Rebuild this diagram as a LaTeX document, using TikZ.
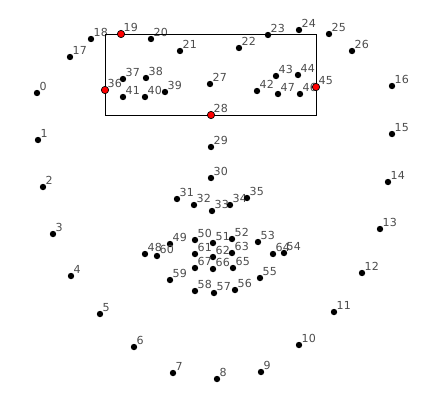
\documentclass[tikz,border=0pt]{standalone}
\usepackage{fontspec}
\setsansfont{DejaVu Sans}
\usepackage{tikz}
\usetikzlibrary{positioning}

\tikzset{
  dot/.style={circle, fill=black, inner sep=0pt, minimum size=4.8pt},
  keydot/.style={circle, fill=red, draw=black, line width=0.5pt, inner sep=0pt, minimum size=5.5pt},
  lbl/.style={text=black!70, inner sep=0pt, font=\sffamily\fontsize{8.3}{9}\selectfont},
}

\begin{document}
\begin{tikzpicture}[x=0.75pt, y=-0.75pt]

  % Frame of the image
  \useasboundingbox (0,0) rectangle (431,408);

  % Landmark points 0-67
  \foreach \i/\x/\y in {0/37/93, 1/38/140, 2/43/187, 3/53/234, 4/71/276, 5/100/314,
      6/134/347, 7/173/373, 8/217/379, 9/261/372, 10/299/345, 11/334/312,
      12/362/273, 13/380/229, 14/388/182, 15/392/134, 16/392/86,
      17/70/57, 18/91/39, 19/121/34, 20/151/39, 21/180/51,
      22/239/48, 23/268/35, 24/299/30, 25/329/34, 26/352/51,
      27/210/84, 28/211/115, 29/211/147, 30/211/178,
      31/177/199, 32/194/205, 33/212/211, 34/230/205, 35/247/198,
      36/105/90, 37/123/79, 38/146/78, 39/165/92, 40/145/97, 41/123/97,
      42/257/91, 43/276/76, 44/298/75, 45/316/87, 46/300/94, 47/278/94,
      48/145/254, 49/170/244, 50/195/240, 51/213/243, 52/232/239, 53/258/242,
      54/284/253, 55/260/278, 56/235/290, 57/214/293, 58/195/291, 59/170/280,
      60/157/256, 61/195/254, 62/213/257, 63/232/253, 64/273/254,
      65/233/268, 66/213/269, 67/195/268}
    \node[dot, label={[lbl, label distance=0pt]north east:\i}] (p\i) at (\x,\y) {};

  % Box through the four key points
  \draw[line width=0.6pt] (p36 |- p19) rectangle (p45 |- p28);

  % Key points in red
  \foreach \k in {19, 36, 45, 28}
    \node[keydot] at (p\k) {};

\end{tikzpicture}
\end{document}
